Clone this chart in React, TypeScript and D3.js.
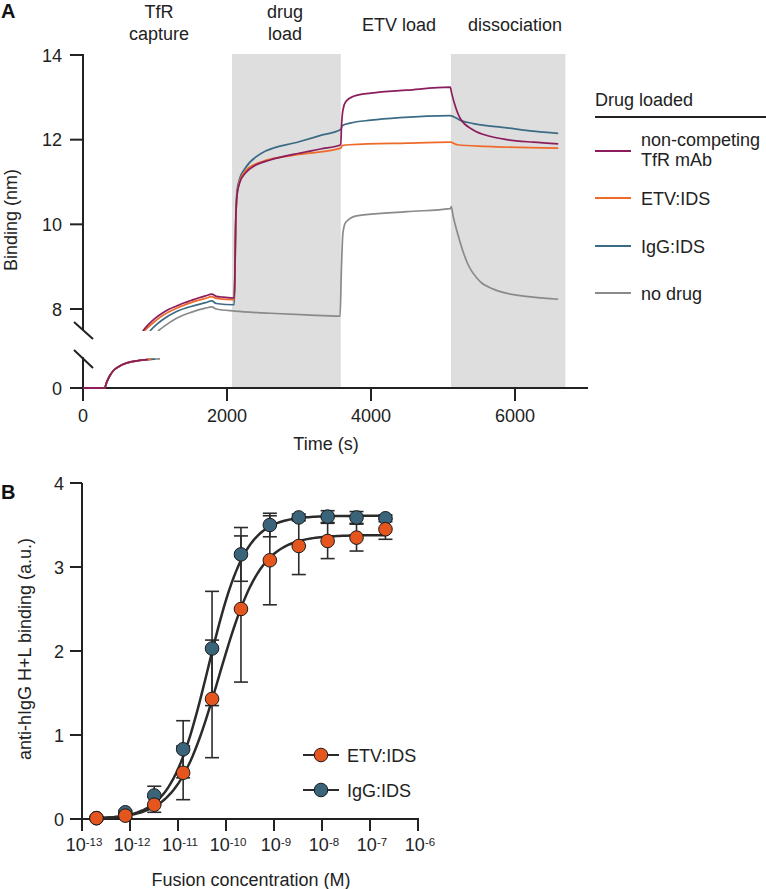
import React from "react";
import * as d3 from "d3";

// ---------- Panel A data (time s, binding nm) ----------
type P = [number, number];
const purpleUpper: P[] = [[830,7.48],[900,7.62],[1000,7.78],[1100,7.9],[1200,8.0],[1300,8.07],[1400,8.14],[1500,8.2],[1600,8.26],[1700,8.31],[1790,8.35],[1850,8.3],[1950,8.28],[2100,8.26],
  [2110,8.9],[2120,10.0],[2140,10.7],[2180,11.0],[2250,11.2],[2400,11.4],[2600,11.52],[3000,11.68],[3300,11.78],[3580,11.88],
  [3590,12.3],[3610,12.7],[3650,12.9],[3750,13.02],[4000,13.1],[4500,13.17],[5100,13.24],
  [5120,13.1],[5160,12.85],[5240,12.5],[5420,12.23],[5650,12.08],[5890,12.0],[6250,11.94],[6600,11.9]];
const orangeUpper: P[] = [[850,7.48],[950,7.64],[1100,7.84],[1300,8.02],[1500,8.15],[1700,8.25],[1790,8.29],[1850,8.25],[2100,8.22],
  [2110,8.8],[2120,9.9],[2140,10.7],[2180,11.05],[2250,11.25],[2480,11.48],[3000,11.65],[3580,11.8],
  [3600,11.86],[3700,11.88],[4500,11.92],[5100,11.94],
  [5200,11.88],[5600,11.84],[6600,11.8]];
const tealUpper: P[] = [[930,7.48],[1000,7.6],[1100,7.74],[1300,7.94],[1500,8.06],[1700,8.15],[1790,8.19],[1850,8.13],[2100,8.1],
  [2110,8.8],[2120,9.9],[2140,10.8],[2180,11.1],[2250,11.32],[2480,11.68],[3000,11.95],[3300,12.1],[3580,12.24],
  [3600,12.33],[3710,12.39],[4000,12.46],[4400,12.52],[5100,12.57],
  [5250,12.45],[5420,12.38],[5890,12.28],[6250,12.2],[6600,12.15]];
const greyUpper: P[] = [[1040,7.48],[1150,7.62],[1300,7.78],[1500,7.92],[1700,8.02],[1790,8.05],[1850,8.0],[2110,7.95],[2600,7.9],[3100,7.86],[3570,7.83],
  [3590,9.0],[3610,9.8],[3650,10.05],[3800,10.2],[4500,10.3],[5100,10.37],[5115,10.42],
  [5140,10.2],[5200,9.8],[5270,9.4],[5340,9.08],[5520,8.64],[5700,8.47],[5890,8.37],[6250,8.28],[6600,8.23]];

const purpleLower: P[] = [[0,0],[300,0],[330,0.15],[370,0.3],[430,0.45],[500,0.54],[600,0.62],[750,0.68],[900,0.71]];
const orangeLower: P[] = [[0,0],[300,0],[330,0.15],[370,0.3],[430,0.45],[500,0.54],[600,0.62],[750,0.68],[950,0.715]];
const tealLower: P[] = [[0,0],[300,0],[330,0.15],[370,0.3],[430,0.45],[500,0.54],[600,0.62],[750,0.68],[1000,0.72]];
const greyLower: P[] = [[0,0],[300,0],[330,0.15],[370,0.3],[430,0.45],[500,0.54],[600,0.62],[750,0.68],[1070,0.73]];

const seriesNames = ["non-competing\nTfR mAb", "ETV:IDS", "IgG:IDS", "no drug"];
const seriesColors = ["#8c1d5c", "#ee6a2a", "#3c6c85", "#8a8a8a"];
const phaseLabels = ["TfR\ncapture", "drug\nload", "ETV load", "dissociation"];
const phaseCenters = [1056, 2806, 4390, 6000];
const shadedPhases: P[] = [[2070, 3580], [5110, 6700]];
const xTicksA = [0, 2000, 4000, 6000];
const yTicksUpper = [8, 10, 12, 14];

// ---------- Panel B data ----------
const conc = [2e-13, 8e-13, 3.2e-12, 1.28e-11, 5.12e-11, 2.05e-10, 8.19e-10, 3.28e-9, 1.31e-8, 5.24e-8, 2.1e-7];
const etvMean = [0.01, 0.04, 0.17, 0.55, 1.43, 2.5, 3.08, 3.25, 3.31, 3.35, 3.45];
const etvSD = [0.01, 0.02, 0.09, 0.32, 0.7, 0.87, 0.53, 0.34, 0.21, 0.16, 0.12];
const iggMean = [0.01, 0.08, 0.28, 0.83, 2.03, 3.15, 3.5, 3.59, 3.6, 3.59, 3.58];
const iggSD = [0.01, 0.02, 0.11, 0.34, 0.68, 0.32, 0.14, 0.04, 0.07, 0.07, 0.04];
// 4PL fit parameters [bottom, top, logEC50, hill]
const etvFit = [0, 3.38, -10.15, 1.0];
const iggFit = [0, 3.61, -10.37, 1.12];
const bColors = ["#e5561f", "#3a6479"];
const bNames = ["ETV:IDS", "IgG:IDS"];
const xTickExpB = [-13, -12, -11, -10, -9, -8, -7, -6];
const yTicksB = [0, 1, 2, 3, 4];

const FONT = "'Liberation Sans', Arial, Helvetica, sans-serif";
const AX = "#222";
const FS = 18;

export default function App() {
  // Panel A scales
  const xA = d3.scaleLinear().domain([0, 2000]).range([83, 227]);
  const yU = d3.scaleLinear().domain([8, 14]).range([309, 55]);
  const yL = d3.scaleLinear().domain([0, 1]).range([388, 348]);
  const lineU = d3.line<P>().x(d => xA(d[0])).y(d => yU(d[1])).curve(d3.curveMonotoneX);
  const lineL = d3.line<P>().x(d => xA(d[0])).y(d => yL(d[1])).curve(d3.curveMonotoneX);
  const uppers = [greyUpper, tealUpper, orangeUpper, purpleUpper];
  const lowers = [greyLower, tealLower, orangeLower, purpleLower];
  const drawColors = [seriesColors[3], seriesColors[2], seriesColors[1], seriesColors[0]];

  // Panel B scales
  const xB = d3.scaleLog().domain([1e-13, 1e-6]).range([82, 418]);
  const yB = d3.scaleLinear().domain([0, 4]).range([819, 483]);
  const fitLine = (p: number[]) => {
    const lx0 = Math.log10(conc[0]);
    const lx1 = Math.log10(conc[conc.length - 1]);
    const pts: P[] = d3.range(0, 121).map(i => {
      const lx = lx0 + (lx1 - lx0) * i / 120;
      const v = p[0] + (p[1] - p[0]) / (1 + Math.pow(10, (p[2] - lx) * p[3]));
      return [Math.pow(10, lx), v];
    });
    return d3.line<P>().x(d => xB(d[0])).y(d => yB(d[1]))(pts) || "";
  };

  return (
    <svg width={766} height={889} style={{ position: "absolute", left: 0, top: 0, background: "#fff" }} fontFamily={FONT}>
      <defs>
        <clipPath id="clipU"><rect x={83} y={40} width={520} height={291} /></clipPath>
      </defs>
      {/* Panel A */}
      <text x={1} y={18} fontSize={20} fontWeight="bold" fill="#111">A</text>
      {shadedPhases.map((s, i) => (
        <rect key={i} x={xA(s[0])} y={54} width={xA(s[1]) - xA(s[0])} height={388 - 54} fill="#dedede" />
      ))}
      {phaseLabels.map((l, i) => {
        const lines = l.split("\n");
        return lines.length === 2 ? (
          <text key={i} x={xA(phaseCenters[i])} textAnchor="middle" fontSize={FS} fill="#222">
            <tspan x={xA(phaseCenters[i])} y={18}>{lines[0]}</tspan>
            <tspan x={xA(phaseCenters[i])} y={39.5}>{lines[1]}</tspan>
          </text>
        ) : (
          <text key={i} x={xA(phaseCenters[i])} y={31} textAnchor="middle" fontSize={FS} fill="#222">{l}</text>
        );
      })}
      {/* curves */}
      <g clipPath="url(#clipU)">
        {uppers.map((d, i) => (
          <path key={i} d={lineU(d) || ""} fill="none" stroke={drawColors[i]} strokeWidth={1.7} />
        ))}
      </g>
      {/* y axis A */}
      <line x1={83} x2={83} y1={54} y2={330} stroke={AX} strokeWidth={2} />
      <line x1={83} x2={83} y1={357} y2={389} stroke={AX} strokeWidth={2} />
      <line x1={74} y1={322} x2={93} y2={339} stroke={AX} strokeWidth={2} />
      <line x1={74} y1={350} x2={93} y2={368} stroke={AX} strokeWidth={2} />
      {yTicksUpper.map(t => (
        <g key={t}>
          <line x1={70} x2={83} y1={yU(t)} y2={yU(t)} stroke={AX} strokeWidth={2} />
          <text x={62} y={yU(t) + 6.5} textAnchor="end" fontSize={FS} fill="#222">{t}</text>
        </g>
      ))}
      <text x={62} y={yL(0) + 6.5} textAnchor="end" fontSize={FS} fill="#222">0</text>
      {/* x axis A */}
      <line x1={70} x2={588} y1={388} y2={388} stroke={AX} strokeWidth={2} />
      {xTicksA.map(t => (
        <g key={t}>
          <line x1={xA(t)} x2={xA(t)} y1={388} y2={401} stroke={AX} strokeWidth={2} />
          <text x={xA(t)} y={422} textAnchor="middle" fontSize={FS} fill="#222">{t}</text>
        </g>
      ))}
      {lowers.map((d, i) => (
        <path key={i} d={lineL(d) || ""} fill="none" stroke={drawColors[i]} strokeWidth={1.8} />
      ))}
      <text x={326} y={450} textAnchor="middle" fontSize={FS} fill="#222">Time (s)</text>
      <text transform="translate(16.5,220) rotate(-90)" textAnchor="middle" fontSize={FS} fill="#222">Binding (nm)</text>
      {/* legend A */}
      <text x={595} y={106} fontSize={FS} fill="#222">Drug loaded</text>
      <line x1={595} x2={766} y1={117} y2={117} stroke={AX} strokeWidth={2} />
      {seriesNames.map((n, i) => {
        const ly = [151, 198, 246, 293][i];
        const lines = n.split("\n");
        return (
          <g key={i}>
            <line x1={595} x2={631} y1={ly} y2={ly} stroke={seriesColors[i]} strokeWidth={1.8} />
            {lines.length === 2 ? (
              <>
                <text x={641} y={ly - 5.5} fontSize={FS} fill="#222">{lines[0]}</text>
                <text x={641} y={ly + 14.5} fontSize={FS} fill="#222">{lines[1]}</text>
              </>
            ) : (
              <text x={641} y={ly + 6.5} fontSize={FS} fill="#222">{n}</text>
            )}
          </g>
        );
      })}

      {/* Panel B */}
      <text x={1} y={499} fontSize={20} fontWeight="bold" fill="#111">B</text>
      <line x1={82} x2={82} y1={483} y2={820} stroke={AX} strokeWidth={2} />
      {yTicksB.map(t => (
        <g key={t}>
          <line x1={70} x2={82} y1={yB(t)} y2={yB(t)} stroke={AX} strokeWidth={2} />
          <text x={64} y={yB(t) + 6.5} textAnchor="end" fontSize={FS} fill="#222">{t}</text>
        </g>
      ))}
      <line x1={70} x2={419} y1={819} y2={819} stroke={AX} strokeWidth={2} />
      {xTickExpB.map(e => (
        <g key={e}>
          <line x1={xB(Math.pow(10, e))} x2={xB(Math.pow(10, e))} y1={819} y2={831} stroke={AX} strokeWidth={2} />
          <text x={xB(Math.pow(10, e)) + 2} y={851} textAnchor="middle" fontSize={FS} fill="#222">
            10<tspan fontSize={11.5} dy={-5}>{e}</tspan>
          </text>
        </g>
      ))}
      <text x={251} y={886} textAnchor="middle" fontSize={FS} fill="#222">Fusion concentration (M)</text>
      <text transform="translate(31,649) rotate(-90)" textAnchor="middle" fontSize={FS} fill="#222">anti-hIgG H+L binding (a.u.)</text>
      {/* fit curves */}
      <path d={fitLine(iggFit)} fill="none" stroke="#2b2b2b" strokeWidth={2.5} />
      <path d={fitLine(etvFit)} fill="none" stroke="#2b2b2b" strokeWidth={2.5} />
      {/* error bars */}
      {[iggMean, etvMean].map((m, si) => {
        const sd = si === 0 ? iggSD : etvSD;
        return conc.map((c, i) => {
          const x = xB(c);
          const y1 = yB(m[i] + sd[i]);
          const y2 = yB(Math.max(0, m[i] - sd[i]));
          return (
            <g key={`${si}-${i}`} stroke="#2b2b2b" strokeWidth={1.6}>
              <line x1={x} x2={x} y1={y1} y2={y2} />
              <line x1={x - 7} x2={x + 7} y1={y1} y2={y1} />
              <line x1={x - 7} x2={x + 7} y1={y2} y2={y2} />
            </g>
          );
        });
      })}
      {/* points */}
      {[iggMean, etvMean].map((m, si) =>
        conc.map((c, i) => (
          <circle key={`p${si}-${i}`} cx={xB(c)} cy={yB(m[i])} r={6.8}
            fill={si === 0 ? bColors[1] : bColors[0]} stroke="#1a1a1a" strokeWidth={1} />
        ))
      )}
      {/* legend B */}
      {bNames.map((n, i) => {
        const ly = [755, 790][i];
        return (
          <g key={n}>
            <line x1={303} x2={339} y1={ly} y2={ly} stroke="#2b2b2b" strokeWidth={2} />
            <circle cx={321} cy={ly} r={6.8} fill={bColors[i]} stroke="#1a1a1a" strokeWidth={1} />
            <text x={347} y={ly + 6.5} fontSize={FS} fill="#222">{n}</text>
          </g>
        );
      })}
    </svg>
  );
}
